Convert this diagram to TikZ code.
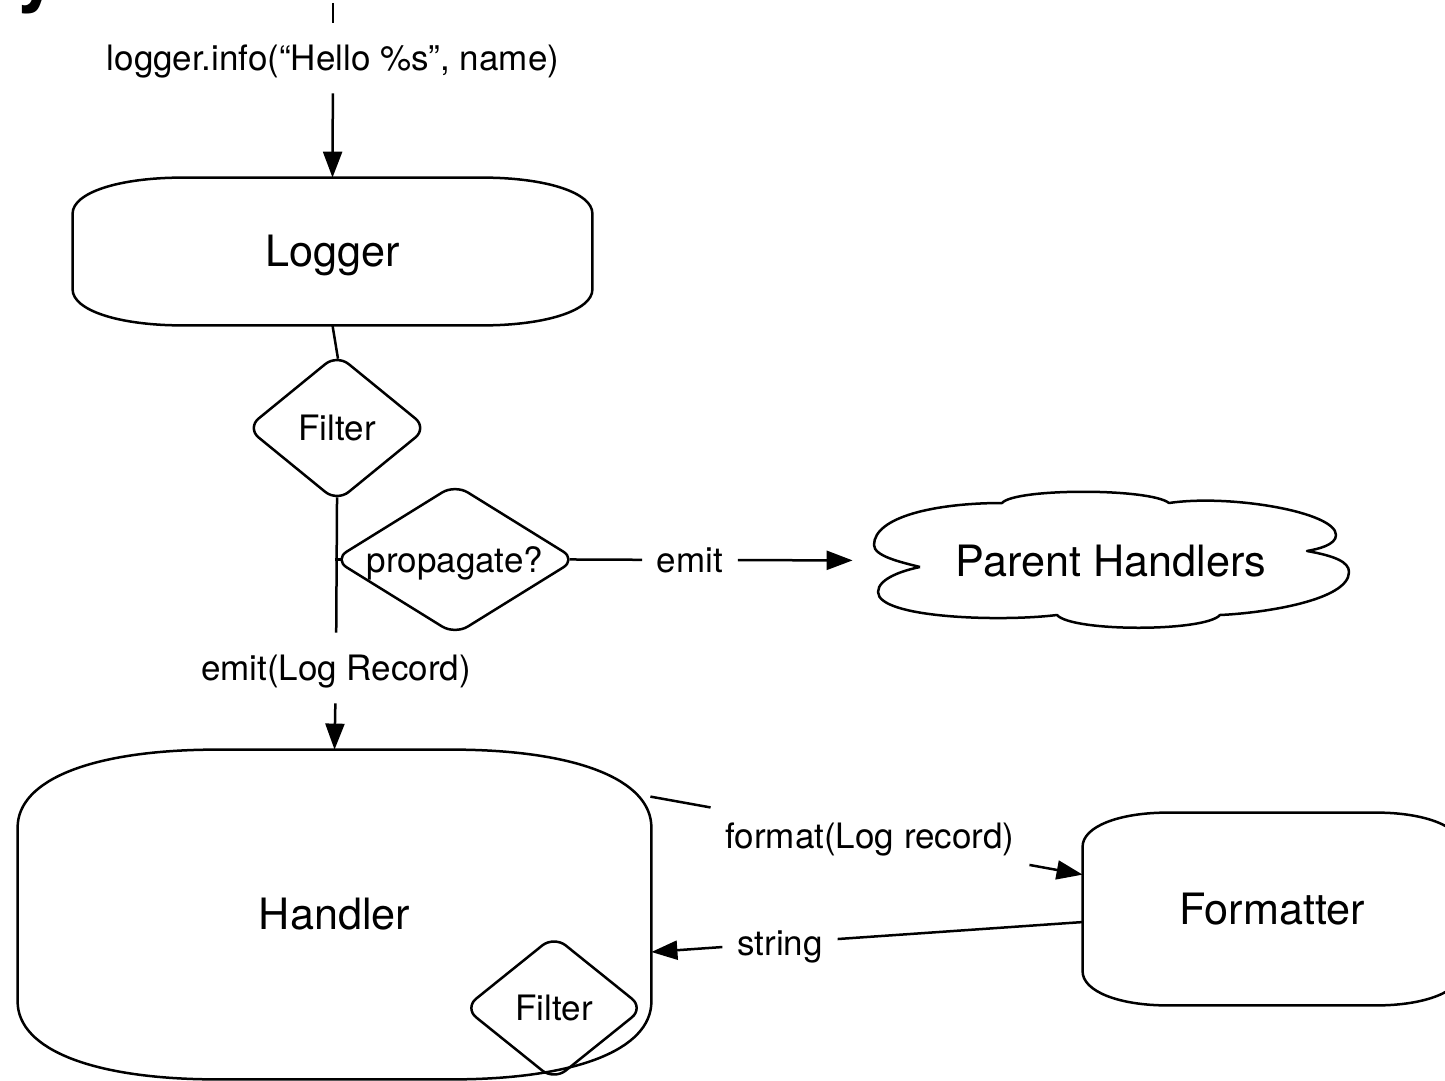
\documentclass[tikz,border=0pt]{standalone}
\usepackage{fontspec}
\setmainfont{TeX Gyre Heros}
\usetikzlibrary{shapes.geometric,arrows.meta,calc}

% Outline with elliptic corners around a rectangular node: node, rx, ry, 1-k
\newcommand\softframe[4]{%
  \draw[line] let \p1=(#1.south west), \p2=(#1.north east) in
    (\x1,\y1+#3) -- (\x1,\y2-#3)
    .. controls (\x1,\y2-#4*#3) and (\x1+#4*#2,\y2) .. (\x1+#2,\y2)
    -- (\x2-#2,\y2)
    .. controls (\x2-#4*#2,\y2) and (\x2,\y2-#4*#3) .. (\x2,\y2-#3)
    -- (\x2,\y1+#3)
    .. controls (\x2,\y1+#4*#3) and (\x2-#4*#2,\y1) .. (\x2-#2,\y1)
    -- (\x1+#2,\y1)
    .. controls (\x1+#4*#2,\y1) and (\x1,\y1+#4*#3) .. (\x1,\y1+#3) -- cycle;}

\begin{document}
\begin{tikzpicture}[x=0.5pt,y=-0.5pt,
  line/.style={line width=1.25pt, line join=round},
  arr/.style={line, -{Triangle[length=13pt,width=9.5pt]}},
  bigtext/.style={font=\fontsize{21.6}{25}\selectfont, text height=15.6pt, text depth=0.2pt},
  midtext/.style={font=\fontsize{17.5}{20}\selectfont, text height=12.8pt, text depth=0.2pt},
  boxnode/.style={bigtext, inner sep=0pt},
  decision/.style={diamond, draw, line, rounded corners=7.5pt, inner sep=0pt, midtext},
  lbl/.style={midtext, inner xsep=7.25pt, inner ysep=0pt, minimum height=35pt},
]
\path[use as bounding box] (0,0) rectangle (1445,1081);
\fill[white] (0,0) rectangle (1445,1081);
\clip (0,0) rectangle (1445,1081);

% tail of the heading above
\node[font=\fontsize{40}{40}\selectfont\bfseries, anchor=base west, inner sep=0pt]
  (titletail) at (15,-3) {y};

% main nodes
\node[boxnode, minimum width=259.5pt, minimum height=73.5pt] (logger) at (332.5,251.5) {Logger};
\node[decision, aspect=1.2, minimum width=90.5pt, minimum height=74pt] (filterA) at (337,428) {Filter};
\node[decision, aspect=1.6, minimum width=121.5pt, minimum height=75.5pt] (propagate) at (455,559.5) {propagate?};
\node[boxnode, minimum width=238pt, minimum height=70pt] (parents) at (1111,561) {Parent Handlers};
\node[boxnode, minimum width=316.5pt, minimum height=164.5pt] (handler) at (334.5,914.5) {Handler};
\node[decision, aspect=1.2, minimum width=90pt, minimum height=72.5pt] (filterB) at (554,1008) {Filter};
\node[boxnode, minimum width=189pt, minimum height=96pt] (formatter) at (1272,909) {Formatter};

\softframe{logger}{55pt}{18pt}{0.42}
\softframe{handler}{100pt}{39pt}{0.38}
\softframe{formatter}{42.5pt}{17pt}{0.42}

% cloud outline of the parent handlers
\draw[line]
  (920,567) .. controls (900,562) and (874,556) .. (874,545)
  .. controls (874,517) and (935,503) .. (1002,503)
  .. controls (1015,488) and (1150,488) .. (1169,503)
  .. controls (1230,494) and (1336,512) .. (1336,535)
  .. controls (1336,545) and (1318,549) .. (1307,551)
  .. controls (1335,556) and (1349,562) .. (1349,572)
  .. controls (1349,600) and (1265,613) .. (1220,615)
  .. controls (1205,632) and (1072,632) .. (1057,615)
  .. controls (1000,622) and (878,618) .. (878,592)
  .. controls (878,578) and (905,570) .. (920,567);

% labels on the connectors
\coordinate (entry) at (333,3);
\node[lbl] (infolbl) at (333,58) {logger.info(“Hello \%s”, name)};
\node[lbl] (emitlbl) at (690,560) {emit};
\node[lbl] (recordlbl) at (336,668) {emit(Log Record)};
\node[lbl] (fmtlbl) at (870,836) {format(Log record)};
\node[lbl] (strlbl) at (780,943) {string};
\coordinate (hOut) at ([xshift=-0.5pt,yshift=-23.5pt]handler.north east);
\coordinate (hIn) at ([yshift=-18.75pt]handler.east);

% connectors
\draw[line] (entry) -- (infolbl);
\draw[arr] (infolbl) -- (logger.north);
\draw[line, shorten >=-3pt] (logger.south) -- (filterA.north);
\draw[line, shorten <=-3pt] (filterA.south) -- (recordlbl);
\draw[arr] (recordlbl) -- (handler.north);
\draw[line] ([xshift=1.25pt]propagate.west) -- ([xshift=5pt]propagate.west);
\draw[line, shorten <=-4pt] (propagate.east) -- (emitlbl);
\draw[arr, shorten >=10pt] (emitlbl) -- (parents);
\draw[line] (hOut) -- (fmtlbl);
\draw[arr] (fmtlbl) -- (formatter);
\draw[line] (formatter) -- (strlbl);
\draw[arr] (strlbl) -- (hIn);
\end{tikzpicture}
\end{document}
